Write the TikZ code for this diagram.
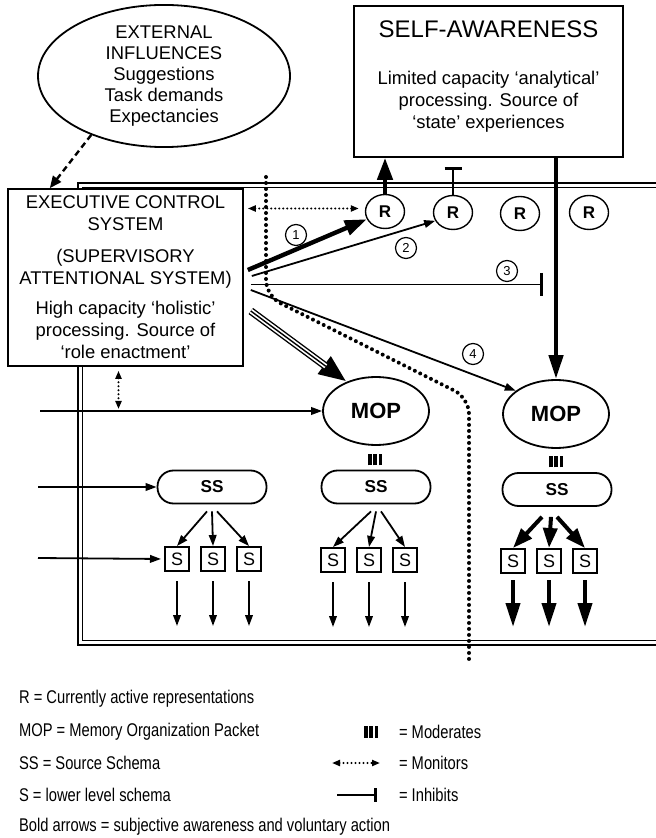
\documentclass[tikz,border=0pt]{standalone}
\usepackage{fontspec}
\setmainfont{Liberation Sans}
\newfontfamily\narrowfont[FakeStretch=0.8]{Liberation Sans}
\usetikzlibrary{arrows.meta,shapes.geometric,calc}

\newcommand{\modbars}{\rule{1.7pt}{5.8pt}\hspace{0.9pt}\rule{1.7pt}{5.8pt}\hspace{0.9pt}\rule{1.7pt}{5.8pt}}

\begin{document}
\begin{tikzpicture}[x=0.5pt,y=-0.5pt,
    every node/.style={font=\fontsize{9.2}{11}\selectfont},
    box/.style={draw,line width=0.8pt,fill=white,inner sep=1pt,align=center},
    oval/.style={draw,ellipse,line width=0.9pt,fill=white,inner sep=0pt},
    rep/.style={oval,line width=0.7pt,minimum width=19.5pt,minimum height=17pt,font=\fontsize{8.5}{10}\selectfont\bfseries},
    mop/.style={oval,minimum width=53pt,minimum height=34pt,font=\fontsize{11}{13}\selectfont\bfseries},
    srcs/.style={draw,line width=0.9pt,fill=white,rounded corners=8pt,minimum width=54.5pt,minimum height=16.5pt,font=\fontsize{8.6}{10}\selectfont\bfseries},
    lows/.style={draw,line width=1pt,minimum size=12pt,inner sep=0pt,font=\fontsize{9}{10}\selectfont},
    num/.style={draw,circle,line width=0.6pt,fill=white,minimum size=10.5pt,inner sep=0pt,font=\fontsize{6.5}{7}\selectfont},
    outline/.style={line width=0.8pt},
    arr/.style={line width=0.9pt,-{Triangle[length=5.5pt,width=3.8pt]}},
    heavy/.style={line width=2.2pt,-{Triangle[length=11pt,width=7.5pt]}},
    inhib/.style={line width=0.9pt,-{Bar[width=11.5pt,line width=1.3pt]}},
    monitor/.style={line width=1.1pt,dash pattern=on 0pt off 2pt,line cap=round,{Triangle[length=4pt,width=3pt]}-{Triangle[length=4pt,width=3pt]}},
    divider/.style={line width=2pt,dash pattern=on 0pt off 3pt,line cap=round},
    legtext/.style={anchor=west,font=\fontsize{9.2}{11}\selectfont\narrowfont}]
    \useasboundingbox (0,0) rectangle (656,838);
    \draw[outline] (660,183) -- (78,183) -- (78,645) -- (660,645);
    \draw[outline] (660,187.5) -- (82.5,187.5) -- (82.5,640.5) -- (660,640.5);

    \node[oval,minimum width=126pt,minimum height=69pt,align=center,font=\fontsize{9.2}{10.5}\selectfont] (ext) at (164,76) {EXTERNAL\\INFLUENCES\\Suggestions\\Task demands\\Expectancies};
    \node[box,minimum width=134.5pt,minimum height=75.5pt] (self) at (488.5,81.5) {};
    \node[font=\fontsize{12}{14}\selectfont] (selftitle) at (488.5,29) {SELF-AWARENESS};
    \node[align=center] (selftext) at (488.5,102) {Limited capacity ‘analytical’\\processing. Source of\\‘state’ experiences};
    \node[box,minimum width=117.5pt,minimum height=88.5pt] (exec) at (125.5,277.5) {EXECUTIVE CONTROL\\SYSTEM\\[5pt](SUPERVISORY\\ATTENTIONAL SYSTEM)\\[4pt]High capacity ‘holistic’\\processing. Source of\\‘role enactment’};

    \foreach \i/\x/\y in {1/385/211.5,2/453/212.5,3/520/213.5,4/589/212.5}
        \node[rep] (R\i) at (\x,\y) {R};
    \node[mop] (MOP1) at (376,411) {MOP};
    \node[mop] (MOP2) at (556,414) {MOP};
    \node[inner sep=0pt] (mod1) at (375,459.5) {\modbars};
    \node[inner sep=0pt] (mod2) at (556,461.5) {\modbars};
    \node[srcs] (SS0) at (212,487) {SS};
    \node[srcs] (SS1) at (376,487) {SS};
    \node[srcs] (SS2) at (557,489.5) {SS};
    \foreach \g/\xa/\y in {0/177/559,1/333/560,2/513/561}
        \foreach \k in {1,2,3}
            \node[lows] (S\g\k) at ({\xa+36*(\k-1)},\y) {S};

    \draw[divider,rounded corners=8pt] (266,177) -- (266,296) -- (469,398) -- (469,660);

    \draw[line width=1.2pt,dash pattern=on 3pt off 2pt,-{Triangle[length=6pt,width=5pt]}] (ext.219) -- ($(exec.north west)!0.18!(exec.north east)$);
    \draw[heavy] (R1.north) -- (R1.north |- self.south);
    \coordinate (rbar) at (453,167);
    \draw[line width=0.9pt,-{Bar[width=8.5pt,line width=1.3pt]}] (R2.north) -- (rbar);
    \draw[heavy,-{Triangle[length=12pt,width=7pt]}] (self.south -| MOP2.north) -- (MOP2.north);

    \draw[monitor,shorten <=2pt,shorten >=3pt] ([yshift=1.5pt]exec.east |- R1.west) -- ([yshift=1.5pt]R1.west);
    \draw[monitor,shorten <=2pt,shorten >=2pt] ([xshift=-3.5pt]exec.south) -- ([xshift=-3.5pt,yshift=-1pt]exec.south |- MOP1.west);

    \draw[heavy] ($(exec.east)+(4,-7.5)$) -- (R1);
    \node[num] (n1) at (296,235) {1};
    \draw[arr] ($(exec.east)+(8,-1.5)$) -- (R2.205);
    \node[num] (n2) at (406,248) {2};
    \coordinate (stop3) at (543,284.5);
    \draw[inhib] ($(exec.east)+(7,7)$) -- (stop3);
    \node[num] (n3) at (507,271) {3};
    \draw[arr] ($(exec.east)+(7,12.5)$) -- (MOP2.150);
    \node[num] (n4) at (473,354) {4};

    \draw[line width=3.8pt,-{Triangle[length=14pt,width=10pt]}] ($(exec.east)+(7,33.5)$) -- (MOP1.135);
    \draw[white,line width=2.4pt,shorten >=13pt] ($(exec.east)+(7,33.5)$) -- (MOP1.135);
    \draw[line width=0.7pt,shorten >=13pt] ($(exec.east)+(7,33.5)$) -- (MOP1.135);

    \coordinate (in1) at (40,411);
    \coordinate (in2) at (38,487);
    \coordinate (in3) at (38,558);
    \draw[arr] (in1) -- (MOP1.west);
    \draw[arr] (in2) -- (SS0.west);
    \draw[arr,shorten >=1.5pt] (in3) -- (S01.west);

    \foreach \g in {0,1} {
        \draw[arr] ([xshift=-2.5pt,yshift=-3.5pt]SS\g.south) -- (S\g1.north);
        \draw[arr] ([yshift=-3.5pt]SS\g.south) -- (S\g2.north);
        \draw[arr] ([xshift=2.5pt,yshift=-3.5pt]SS\g.south) -- (S\g3.north);
        \foreach \k in {1,2,3} {
            \coordinate (o\g\k) at ($(S\g\k.south)+(0,54)$);
            \draw[arr] ([yshift=-4.5pt]S\g\k.south) -- (o\g\k);
        }
    }
    \draw[heavy,line width=2pt,-{Triangle[length=10pt,width=7pt]}] ([xshift=-7.5pt,yshift=-5pt]SS2.south) -- (S21.north);
    \draw[heavy,line width=2pt,-{Triangle[length=10pt,width=7pt]}] ([xshift=-3pt,yshift=-5pt]SS2.south) -- (S22.north);
    \draw[heavy,line width=2pt,-{Triangle[length=10pt,width=7pt]}] ([yshift=-5pt]SS2.south) -- (S23.north);
    \foreach \k in {1,2,3} {
        \coordinate (o2\k) at ($(S2\k.south)+(0,53)$);
        \draw[heavy,line width=2pt,-{Triangle[length=12pt,width=7pt]}] ([yshift=-3pt]S2\k.south) -- (o2\k);
    }

    \node[legtext] (l1) at (12,699) {R = Currently active representations};
    \node[legtext] (l2) at (12,732) {MOP = Memory Organization Packet};
    \node[legtext] (l3) at (12,763) {SS = Source Schema};
    \node[legtext] (l4) at (12,795) {S = lower level schema};
    \node[legtext] (l5) at (12,827) {Bold arrows = subjective awareness and voluntary action};
    \node[inner sep=0pt] (lmod) at (371,732) {\modbars};
    \node[legtext] (l6) at (392,732) {= Moderates};
    \node[legtext] (l7) at (392,763) {= Monitors};
    \node[legtext] (l8) at (392,795) {= Inhibits};
    \coordinate (lm1) at (332,763);
    \coordinate (lm2) at (380,763);
    \draw[monitor] (lm1) -- (lm2);
    \coordinate (li1) at (337,795);
    \coordinate (li2) at (377,795);
    \draw[line width=1.2pt,-{Bar[width=7pt,line width=1.5pt]}] (li1) -- (li2);
\end{tikzpicture}
\end{document}
